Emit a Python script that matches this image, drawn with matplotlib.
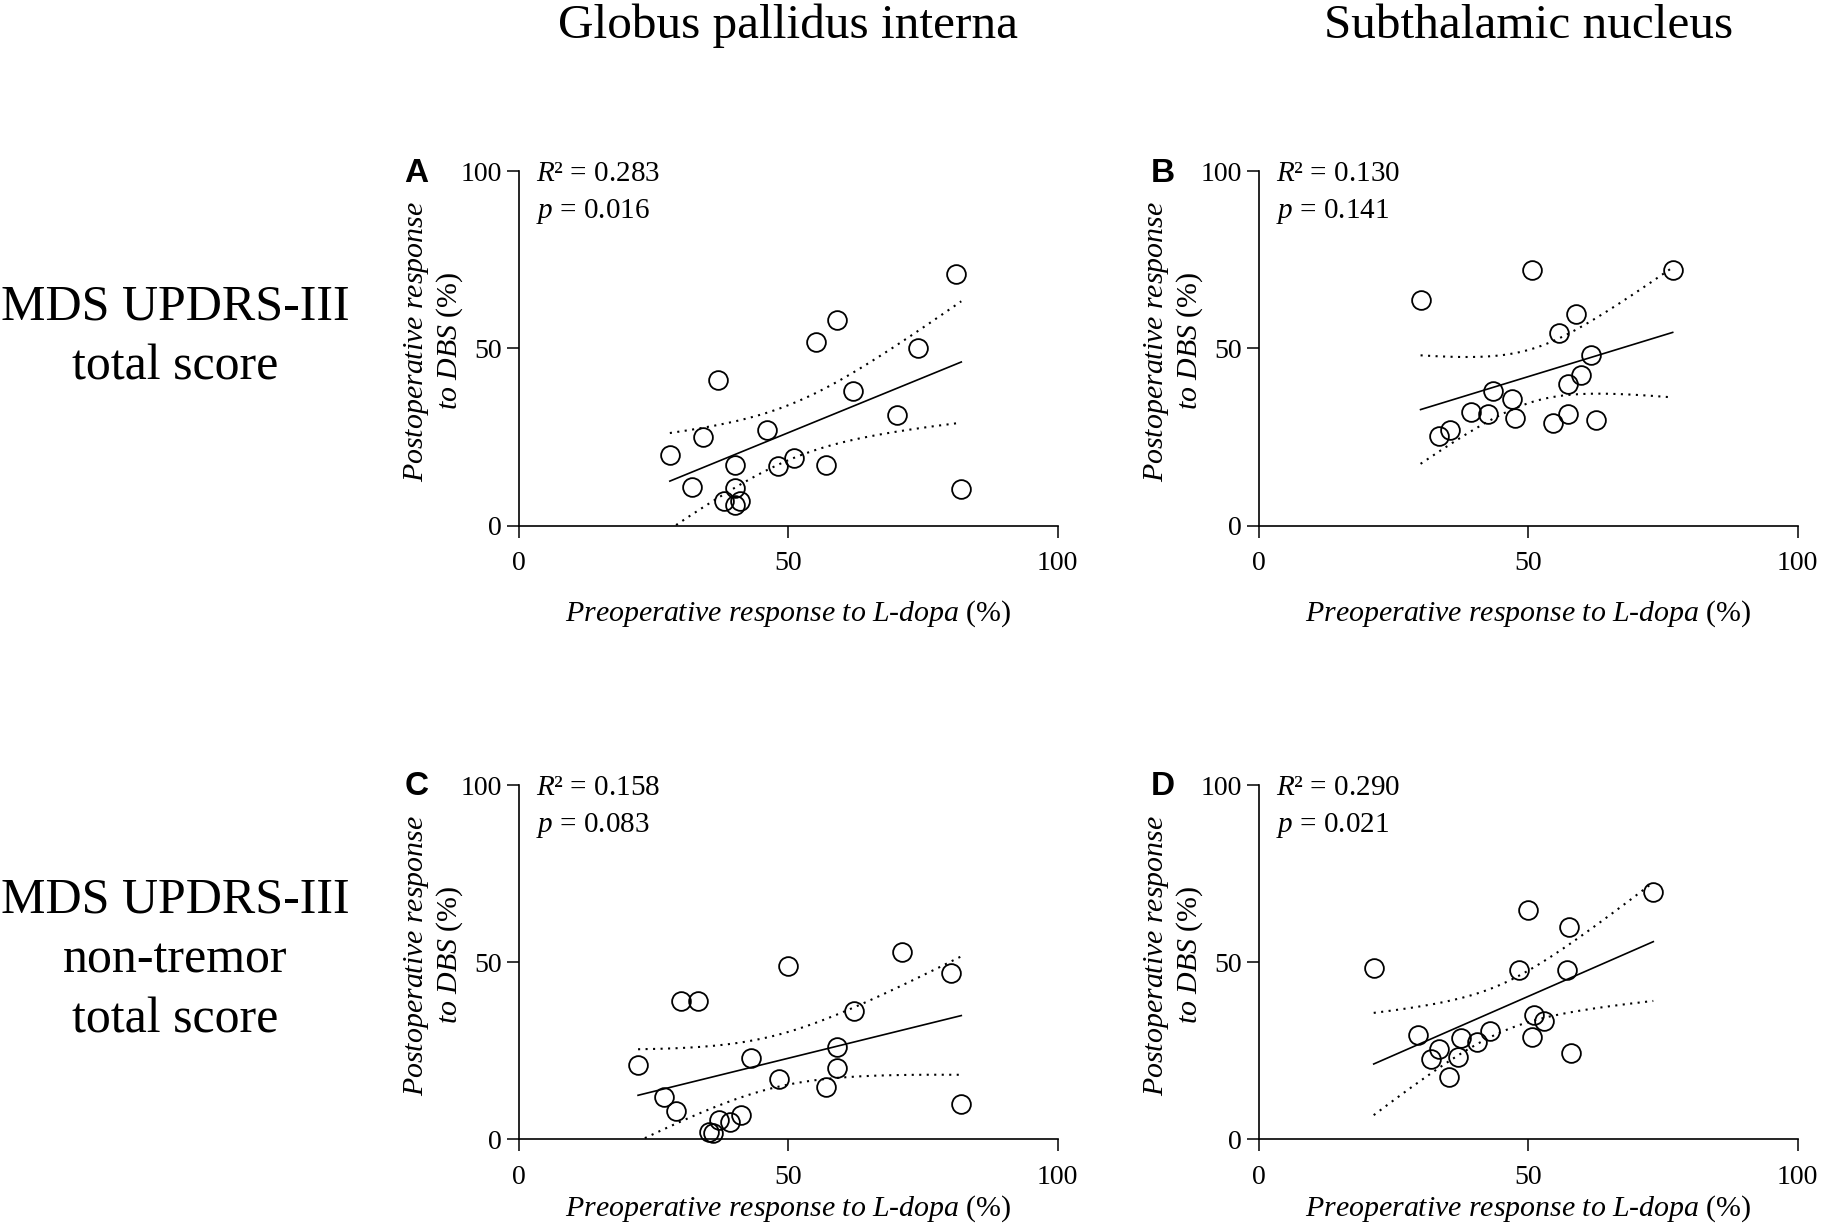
import numpy as np
import matplotlib
matplotlib.use("Agg")
import matplotlib.pyplot as plt

plt.rcParams['font.family'] = ['Liberation Serif', 'DejaVu Serif']
plt.rcParams['mathtext.fontset'] = 'custom'
plt.rcParams['mathtext.rm'] = 'Liberation Serif'
plt.rcParams['mathtext.it'] = 'Liberation Serif:italic'
plt.rcParams['mathtext.bf'] = 'Liberation Serif:bold'

# Panel A: GPi, total score
a_x = [28.0, 32.1, 34.1, 37.0, 38.1, 40.1, 40.1, 40.1, 41.1, 46.0,
       48.0, 51.1, 55.1, 56.9, 59.0, 62.0, 70.1, 74.1, 81.1, 82.1]
a_y = [20.0, 11.0, 25.1, 41.0, 7.0, 17.1, 10.5, 5.8, 6.9, 26.9,
       16.9, 19.2, 51.9, 17.1, 57.9, 38.0, 31.2, 50.0, 70.9, 10.2]

# Panel B: STN, total score
b_x = [30.0, 33.4, 35.5, 39.3, 42.6, 43.4, 47.0, 47.6, 50.7,
       54.5, 55.7, 57.3, 57.3, 58.8, 59.7, 61.6, 62.5, 76.8]
b_y = [63.8, 25.4, 27.1, 32.0, 31.6, 38.0, 35.6, 30.5, 72.2,
       29.0, 54.3, 40.1, 31.5, 59.8, 42.4, 48.1, 29.8, 72.2]

# Panel C: GPi, non-tremor score
c_x = [22.1, 27.0, 29.1, 30.0, 33.2, 35.2, 36.1, 37.1, 39.2, 41.2,
       43.1, 48.2, 50.0, 57.0, 59.1, 59.1, 62.1, 71.1, 80.1, 82.1]
c_y = [21.1, 11.9, 7.9, 39.0, 39.0, 2.1, 1.9, 5.4, 4.9, 7.0,
       23.0, 17.1, 48.8, 14.9, 20.2, 26.1, 36.1, 52.8, 47.0, 10.1]

# Panel D: STN, non-tremor score
d_x = [21.3, 29.5, 31.9, 33.4, 35.3, 37.0, 37.5, 40.5, 42.8,
       48.3, 50.0, 50.7, 51.0, 52.9, 57.6, 57.1, 58.0, 73.2]
d_y = [48.4, 29.5, 22.7, 25.4, 17.6, 23.2, 28.6, 27.6, 30.6,
       47.8, 64.8, 28.9, 35.1, 33.3, 59.9, 47.9, 24.4, 69.7]

letters = ["A", "B", "C", "D"]
r2_labels = ["0.283", "0.130", "0.158", "0.290"]
p_labels = ["0.016", "0.141", "0.083", "0.021"]
col_titles = ["Globus pallidus interna", "Subthalamic nucleus"]
row_titles = ["MDS UPDRS-III\ntotal score", "MDS UPDRS-III\nnon-tremor\ntotal score"]
ticks = [0, 50, 100]

# two-sided 95% t critical values by degrees of freedom
t_crit = {16: 2.120, 18: 2.101}

fig = plt.figure(figsize=(18.23, 12.30), dpi=100)

lefts = [0.2847, 0.6906]
bottoms = [0.5727, 0.0737]
w, h = 0.2955, 0.2880

panels = [(a_x, a_y), (b_x, b_y), (c_x, c_y), (d_x, d_y)]

for i, (xs, ys) in enumerate(panels):
    row, col = divmod(i, 2)
    ax = fig.add_axes([lefts[col], bottoms[row], w, h])
    x = np.array(xs)
    y = np.array(ys)
    n = len(x)

    # linear fit and 95% confidence band of the mean
    slope, icpt = np.polyfit(x, y, 1)
    xx = np.linspace(x.min(), x.max(), 200)
    yy = slope * xx + icpt
    resid = y - (slope * x + icpt)
    s = np.sqrt(np.sum(resid ** 2) / (n - 2))
    sxx = np.sum((x - x.mean()) ** 2)
    half = t_crit[n - 2] * s * np.sqrt(1.0 / n + (xx - x.mean()) ** 2 / sxx)

    ax.plot(xx, yy, color='black', lw=1.2, zorder=2)
    ax.plot(xx, yy + half, color='black', lw=1.5, ls=(0, (1, 2.6)), zorder=2)
    ax.plot(xx, yy - half, color='black', lw=1.5, ls=(0, (1, 2.6)), zorder=2)
    ax.plot(x, y, 'o', ms=13.5, mfc='none', mec='black', mew=1.3,
            zorder=3, clip_on=False)

    ax.set_xlim(0, 100)
    ax.set_ylim(0, 100)
    ax.set_xticks(ticks)
    ax.set_yticks(ticks)
    for sp in ['top', 'right']:
        ax.spines[sp].set_visible(False)
    for sp in ['left', 'bottom']:
        ax.spines[sp].set_linewidth(1.2)
    ax.tick_params(axis='both', direction='out', length=8.5, width=1.1,
                   labelsize=20)
    ax.tick_params(axis='x', pad=10)
    ax.tick_params(axis='y', pad=4)

    ax.set_xlabel(r"$\mathit{Preoperative\ response\ to\ L}$-$\mathit{dopa}$ (%)",
                  fontsize=21.5, va='center')
    ax.xaxis.set_label_coords(0.5, -0.25 if row == 0 else -0.197)
    ax.set_ylabel("$\\mathit{Postoperative\\ response}$\n$\\mathit{to\\ DBS}$ (%)",
                  fontsize=21.5, va='center', linespacing=1.15)
    ax.yaxis.set_label_coords(-0.158, 0.52)

    ax.text(3.2, 99.2, r"$\mathit{R}$² = " + r2_labels[i], fontsize=21,
            va='center', ha='left')
    ax.text(3.2, 88.6, r"$\mathit{p}$ = " + p_labels[i], fontsize=21,
            va='center', ha='left')
    ax.text(-0.213 if col == 0 else -0.20, 0.995, letters[i],
            transform=ax.transAxes, family='Liberation Sans',
            fontweight='bold', fontsize=24, va='center', ha='left')

for col, t in enumerate(col_titles):
    fig.text(lefts[col] + w / 2, 0.979, t, fontsize=35.5, ha='center', va='center')

fig.text(0.096, 0.726, row_titles[0], fontsize=36, ha='center', va='center',
         linespacing=1.38)
fig.text(0.096, 0.219, row_titles[1], fontsize=36, ha='center', va='center',
         linespacing=1.38)

fig.savefig("out.png", dpi=100)
